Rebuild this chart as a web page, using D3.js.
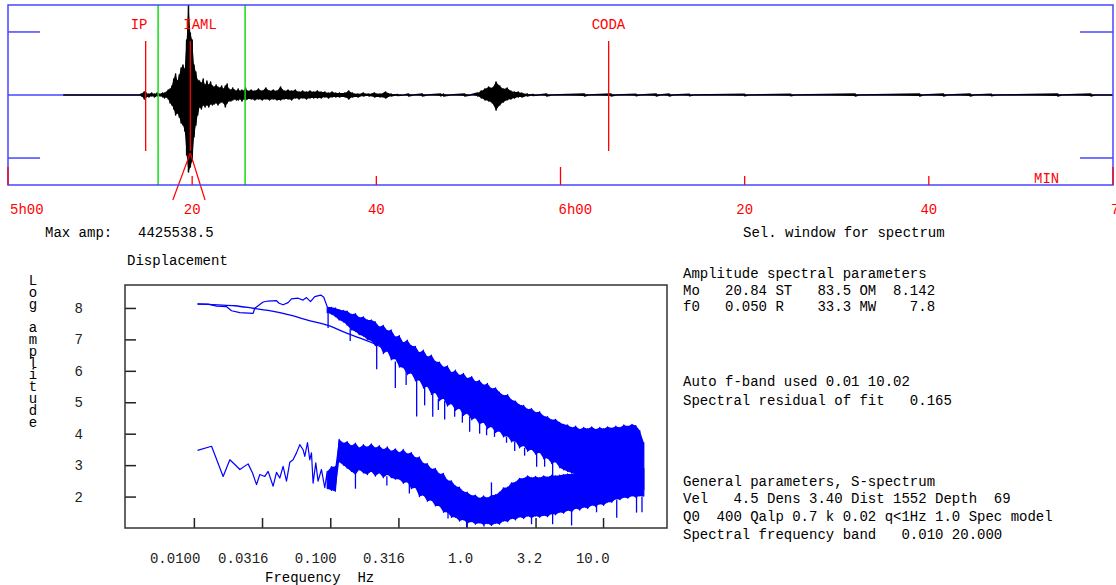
<!DOCTYPE html>
<html>
<head>
<meta charset="utf-8">
<script src="https://cdn.jsdelivr.net/npm/d3@7"></script>
<style>
html, body { margin: 0; padding: 0; background: #fff; }
svg text { font-family: "Liberation Mono", "DejaVu Sans Mono", monospace; font-size: 14px; white-space: pre; }
svg text.stacked { writing-mode: vertical-rl; text-orientation: upright; }
</style>
</head>
<body>
<svg id="chart" width="1116" height="585"></svg>
<script>
// ---------------- Seismogram (minutes after 5h00, amplitude in 1e5 counts) ----------------
const maxAmp = 4425538.5;
const traceTime = [6.0, 14.3, 14.5, 14.8, 15.0, 15.3, 15.6, 15.9, 16.2, 16.5, 16.8, 17.0, 17.2,
  17.4, 17.6, 17.8, 18.0, 18.2, 18.4, 18.6, 18.8, 19.0, 19.2, 19.4, 19.6, 19.8, 20.0, 20.2, 20.4,
  20.6, 20.8, 21.0, 21.2, 21.4, 21.6, 21.8, 22.0, 22.2, 22.4, 22.6, 22.8, 23.0, 23.2, 23.4, 23.6,
  23.8, 24.0, 24.2, 24.4, 24.6, 24.8, 25.0, 25.2, 25.4, 25.6, 25.8, 26.0,
  26.4, 26.8, 27.2, 27.6, 28.0, 28.4, 28.8, 29.2, 29.6, 30.0, 30.4, 30.8, 31.2, 31.6, 32.0, 32.4,
  32.8, 33.2, 33.6, 34.0, 34.4, 34.8, 35.2, 35.6, 36.0, 36.6, 37.0, 37.4, 38.0, 38.6, 39.2, 39.8,
  40.4, 41.0, 41.6, 42.3, 43.0, 43.5, 44.0, 45.0, 45.5, 47.0, 47.3, 48.0, 49.6, 50.2,
  51.0, 51.4, 51.8, 52.2, 52.6, 53.0, 53.4, 53.8, 54.2, 54.6, 55.0, 55.4, 55.8, 56.4, 57.0, 57.6,
  58.5, 59.0, 62.6, 63.0, 65.5, 66.0, 68.2, 68.6, 70.4, 70.8, 71.8, 72.2, 74.0, 74.4, 80.0, 80.4,
  85.0, 85.4, 92.0, 92.4, 99.0, 99.4, 101.6, 102.0, 104.5, 104.9, 106.8, 107.2, 114.0, 114.4,
  117.6, 118.0, 120.0];
const traceMax = [0, 0, 0.5, 1.5, 1.0, 0.5, 1.0, 0.5, 1.0, 0.5, 1.0, 1.0, 1.5,
  2.5, 3.0, 4.4, 7.9, 10.3, 6.9, 9.8, 13.3, 14.8, 12.8, 27.0, 44.255385, 30.5, 27.0, 14.8, 11.3,
  7.4, 6.9, 5.9, 7.9, 4.9, 6.9, 4.9, 6.4, 4.4, 3.9, 4.9, 3.9, 3.4, 4.4, 3.0, 4.4,
  5.4, 3.0, 2.5, 3.4, 2.5, 2.0, 3.0, 2.0, 2.5, 2.0, 3.4, 2.0,
  2.5, 2.0, 3.0, 2.0, 3.4, 2.0, 2.5, 2.0, 3.9, 2.0, 2.5, 2.0, 2.5, 1.5, 2.0, 1.5,
  2.0, 1.5, 2.0, 1.5, 1.5, 1.0, 1.5, 1.0, 1.0, 1.0, 2.0, 1.0, 0.5, 1.0, 0.5, 1.0,
  0.5, 1.5, 0.5, 0.3, 0, 0.5, 0, 0.5, 0, 0.5, 0.5, 0, 0.5, 0,
  1.0, 2.0, 3.0, 3.9, 3.4, 6.4, 4.4, 3.0, 3.4, 2.0, 1.5, 1.5, 1.0, 0.5, 0.3, 0,
  0.5, 0, 0.5, 0, 0.5, 0, 0.4, 0, 0.5, 0, 0.5, 0, 0.4, 0, 0.4, 0,
  0.4, 0, 0.5, 0, 0.5, 0, 0.5, 0, 0.5, 0, 0.4, 0, 0.5, 0,
  0.5, 0, 0];
const traceMin = [0, 0, -0.5, -2.0, -1.0, -1.0, -0.5, -1.0, -0.5, -0.5, -1.0, -1.5, -1.0,
  -2.0, -3.9, -4.9, -6.9, -9.8, -8.9, -10.8, -13.8, -14.8, -17.7, -29.5, -37.9, -35.4, -32.5, -20.7, -14.8,
  -9.8, -5.9, -6.9, -4.9, -5.9, -4.9, -5.9, -4.4, -4.9, -4.4, -3.9, -4.9, -3.9, -3.4, -3.9, -5.9,
  -3.9, -3.0, -3.0, -2.5, -2.0, -2.5, -2.5, -2.0, -3.0, -2.0, -2.5, -2.0,
  -2.0, -2.5, -2.0, -2.5, -2.0, -2.5, -2.0, -2.5, -2.5, -2.0, -2.0, -2.5, -1.5, -2.0, -1.5, -2.0,
  -1.5, -1.5, -1.5, -1.5, -1.0, -1.5, -1.0, -1.0, -1.0, -1.0, -2.0, -1.0, -1.0, -0.5, -0.5, -1.0,
  -1.0, -1.5, -0.5, -0.3, 0, -0.5, 0, -0.5, 0, -0.5, -0.5, 0, -0.5, 0,
  -0.5, -1.5, -2.5, -3.0, -3.9, -7.4, -4.9, -3.4, -2.5, -2.0, -1.5, -1.0, -1.0, -0.5, -0.3, 0,
  -0.5, 0, -0.5, 0, -0.5, 0, -0.4, 0, -0.5, 0, -0.5, 0, -0.4, 0, -0.4, 0,
  -0.4, 0, -0.5, 0, -0.5, 0, -0.5, 0, -0.5, 0, -0.4, 0, -0.5, 0,
  -0.5, 0, 0];

const timeTicks = [0, 20, 40, 60, 80, 100, 120];
const timeTickLabels = ["5h00", "20", "40", "6h00", "20", "40", "7h00"];
const ampMarks = [31, -31];
const phaseNames = ["IP", "IAML", "CODA"];
const phaseTimes = [14.95, 19.8, 65.23];
const phaseLabelDx = [-15, -7, -17];
const specWindow = [16.3, 25.75];
const amlPeriod = [17.9, 21.4];

// ---------------- Displacement spectrum (Hz, log amplitude) ----------------
const sigLineFreq = [0.01064, 0.01273, 0.01467, 0.01736, 0.01889, 0.02173, 0.02719, 0.02798, 0.03219,
  0.03503, 0.04035, 0.04217, 0.0451, 0.04907, 0.05196, 0.05808, 0.06321, 0.06693, 0.07161, 0.07698,
  0.08518, 0.08962];
const sigLineAmp = [8.12, 8.12, 8.06, 8.04, 7.91, 7.85, 7.83, 7.99, 8.19,
  8.22, 8.23, 8.15, 8.10, 8.17, 8.29, 8.31, 8.25, 8.33, 8.20, 8.36,
  8.41, 8.34];

const bandFreq = [0.095, 0.102, 0.109, 0.116, 0.125, 0.133, 0.143, 0.153, 0.163, 0.175, 0.187, 0.200,
  0.214, 0.229, 0.245, 0.262, 0.280, 0.300, 0.321, 0.343, 0.367, 0.393, 0.421, 0.450, 0.482, 0.515,
  0.552, 0.590, 0.632, 0.676, 0.723, 0.774, 0.828, 0.886, 0.948, 1.01, 1.09, 1.16, 1.24, 1.33, 1.42,
  1.52, 1.63, 1.74, 1.86, 2.00, 2.13, 2.28, 2.44, 2.62, 2.80, 2.99, 3.20, 3.43, 3.67, 3.92, 4.20,
  4.49, 4.81, 5.14, 5.50, 5.89, 6.30, 6.74, 7.21, 7.72, 8.26, 8.84, 9.46, 10.1, 10.8, 11.6, 12.4,
  13.3, 14.2, 15.2, 16.3, 17.4, 18.6, 19.9];
const sigHi = [8.04, 8.02, 8.00, 7.95, 7.92, 7.90, 7.80, 7.82, 7.70, 7.72, 7.62, 7.62,
  7.56, 7.40, 7.45, 7.28, 7.30, 7.08, 7.12, 6.90, 6.98, 6.80, 6.78, 6.58, 6.66, 6.45,
  6.50, 6.30, 6.28, 6.12, 6.16, 5.95, 6.02, 5.86, 5.92, 5.76, 5.82, 5.66, 5.70, 5.55, 5.60,
  5.44, 5.46, 5.32, 5.22, 5.24, 5.08, 5.04, 4.92, 4.90, 4.78, 4.80, 4.68, 4.70, 4.56, 4.54, 4.44,
  4.46, 4.36, 4.30, 4.28, 4.20, 4.24, 4.14, 4.20, 4.16, 4.22, 4.14, 4.20, 4.16, 4.22, 4.18, 4.24,
  4.20, 4.28, 4.24, 4.30, 4.26, 4.10, 3.72];
const sigLo = [7.85, 7.80, 7.72, 7.62, 7.55, 7.45, 7.30, 7.25, 7.15, 7.10, 7.00, 6.95,
  6.80, 6.82, 6.55, 6.62, 6.35, 6.38, 6.12, 6.10, 5.88, 5.92, 5.68, 5.70, 5.45, 5.50,
  5.25, 5.30, 5.05, 5.12, 4.88, 4.95, 4.74, 4.80, 4.58, 4.64, 4.44, 4.50, 4.30, 4.36, 4.16,
  4.22, 4.04, 4.08, 3.90, 3.92, 3.74, 3.76, 3.55, 3.62, 3.44, 3.50, 3.35, 3.40, 3.20, 3.22, 3.05,
  3.10, 2.92, 2.85, 2.80, 2.75, 2.70, 2.65, 2.60, 2.55, 2.55, 2.50, 2.45, 2.45, 2.40, 2.40, 2.35,
  2.35, 2.30, 2.30, 2.25, 2.25, 2.20, 2.20];
// isolated spectral spikes: [frequency, from, to]
const sigSpikes = [[0.0964, 7.95, 7.36], [0.140, 7.35, 6.95], [0.219, 6.85, 6.05], [0.300, 6.30, 5.45],
  [0.36, 6.00, 5.55], [0.430, 5.75, 4.55], [0.492, 5.55, 4.90], [0.564, 5.30, 4.54], [0.62, 5.10, 4.75],
  [0.690, 5.05, 4.45], [0.817, 4.85, 4.54], [0.93, 4.70, 4.35], [1.052, 4.55, 4.06], [1.245, 4.40, 4.00],
  [1.40, 4.20, 3.95], [1.60, 4.15, 3.90], [1.96, 3.90, 3.71], [2.25, 3.75, 3.45], [2.66, 3.55, 3.30],
  [3.26, 3.40, 2.95], [3.73, 3.25, 2.95], [4.27, 3.10, 2.63]];

const noiseLineFreq = [0.01064, 0.01348, 0.01639, 0.01835, 0.01997, 0.02173, 0.02499, 0.02692, 0.0288,
  0.03045, 0.03313, 0.03503, 0.03811, 0.04035, 0.04266, 0.0451, 0.04776, 0.0505, 0.05339, 0.05654,
  0.05978, 0.06321, 0.06505, 0.06808, 0.07075, 0.07282, 0.07482, 0.07831, 0.0814, 0.0862, 0.09114];
const noiseLineAmp = [3.47, 3.60, 2.64, 3.17, 3.02, 2.86, 3.04, 2.75, 2.38,
  2.70, 2.64, 2.80, 2.33, 2.77, 2.59, 2.96, 2.49, 3.09, 3.17, 3.39,
  3.65, 3.49, 3.28, 3.72, 3.17, 3.39, 2.43, 3.07, 2.49, 2.86, 2.28];
const noiseHi = [2.80, 2.95, 2.96, 3.82, 3.70, 3.75, 3.62, 3.70, 3.55, 3.65, 3.58, 3.68,
  3.55, 3.62, 3.50, 3.58, 3.45, 3.52, 3.40, 3.50, 3.36, 3.40, 3.24, 3.26, 3.06, 3.05,
  2.88, 2.90, 2.72, 2.74, 2.52, 2.50, 2.34, 2.30, 2.16, 2.14, 2.03, 2.05, 1.95, 2.02, 1.96,
  2.04, 2.06, 2.14, 2.28, 2.30, 2.44, 2.46, 2.58, 2.58, 2.66, 2.60, 2.64, 2.60, 2.66, 2.62, 2.68,
  2.66, 2.68, 2.70, 2.72, 2.72, 2.74, 2.76, 2.78, 2.80, 2.80, 2.82, 2.82, 2.84, 2.85, 2.86, 2.88,
  2.88, 2.90, 2.90, 2.92, 2.92, 2.92, 2.90];
const noiseLo = [2.25, 2.20, 2.17, 3.10, 3.00, 2.90, 2.80, 2.70, 2.85, 2.75, 2.70, 2.80,
  2.65, 2.75, 2.60, 2.70, 2.60, 2.55, 2.55, 2.42, 2.46, 2.25, 2.28, 2.00, 2.04, 1.85,
  1.88, 1.70, 1.70, 1.50, 1.50, 1.34, 1.34, 1.22, 1.26, 1.15, 1.20, 1.12, 1.16, 1.10, 1.14,
  1.08, 1.15, 1.12, 1.22, 1.20, 1.30, 1.26, 1.35, 1.30, 1.38, 1.32, 1.38, 1.34, 1.40, 1.36, 1.45,
  1.42, 1.50, 1.47, 1.56, 1.52, 1.62, 1.57, 1.66, 1.62, 1.72, 1.68, 1.76, 1.72, 1.82, 1.82, 1.92,
  1.90, 1.97, 1.95, 2.02, 1.98, 2.02, 2.00];
const noiseSpikes = [[0.153, 2.75, 2.25], [0.26, 2.65, 2.35], [0.38, 2.40, 2.10], [0.73, 1.50, 1.30],
  [1.0, 1.20, 1.02], [1.34, 1.15, 1.05], [1.52, 1.98, 2.45], [2.99, 1.40, 1.12], [4.27, 1.45, 1.12],
  [5.88, 1.55, 1.08], [8.96, 1.72, 1.50], [12.6, 1.90, 1.33], [17.6, 2.00, 1.49], [19.3, 2.00, 1.50]];

// fitted source model
const modelFreq = [0.01064, 0.015, 0.02, 0.0272, 0.035, 0.05, 0.07, 0.1, 0.128, 0.2, 0.32, 0.5, 1.0, 2.0, 4.0, 10.0];
const modelAmp = [8.13, 8.10, 8.07, 7.99, 7.92, 7.78, 7.60, 7.42, 7.22, 6.90, 6.47, 6.10, 5.50, 4.90, 4.25, 3.35];

const freqTicks = [0.01, 0.0316, 0.1, 0.316, 1.0, 3.2, 10.0];
const freqTickLabels = ["0.0100", "0.0316", "0.100", "0.316", "1.0", "3.2", "10.0"];
const ampTicks = [2, 3, 4, 5, 6, 7, 8];

const infoLines = [
  ["Amplitude spectral parameters", 278],
  ["Mo   20.84 ST   83.5 OM  8.142", 295],
  ["f0   0.050 R    33.3 MW    7.8", 311],
  ["Auto f-band used 0.01 10.02", 386],
  ["Spectral residual of fit   0.165", 405],
  ["General parameters, S-spectrum", 486],
  ["Vel   4.5 Dens 3.40 Dist 1552 Depth  69", 503],
  ["Q0  400 Qalp 0.7 k 0.02 q<1Hz 1.0 Spec model", 521],
  ["Spectral frequency band   0.010 20.000", 539]
];

// ---------------- drawing ----------------
const svg = d3.select("#chart");
const RED = "#ff0000", BLUE = "#4646ff", GREEN = "#10dd10", SPEC = "#0000ff";

// seismogram panel
const tx = d3.scaleLinear().domain([0, 120]).range([8, 1113]);
const ty = d3.scaleLinear().domain([-maxAmp / 1e5, maxAmp / 1e5]).range([185, 5]);

svg.append("defs").append("clipPath").attr("id", "traceClip")
  .append("rect").attr("x", 8).attr("y", 5).attr("width", 1105).attr("height", 180);

svg.append("line").attr("x1", tx(0)).attr("x2", tx(120)).attr("y1", ty(0)).attr("y2", ty(0))
  .attr("stroke", BLUE).attr("stroke-width", 1.5);

ampMarks.forEach(a => {
  svg.append("line").attr("x1", 8).attr("x2", 40).attr("y1", ty(a)).attr("y2", ty(a))
    .attr("stroke", BLUE).attr("stroke-width", 1.5);
  svg.append("line").attr("x1", 1080).attr("x2", 1113).attr("y1", ty(a)).attr("y2", ty(a))
    .attr("stroke", BLUE).attr("stroke-width", 1.5);
});

const traceG = svg.append("g").attr("clip-path", "url(#traceClip)");
const idx = d3.range(traceTime.length);
traceG.append("path")
  .attr("d", d3.area().x(i => tx(traceTime[i])).y0(i => ty(traceMin[i])).y1(i => ty(traceMax[i]))(idx))
  .attr("fill", "#000");
const tracePts = [];
traceTime.forEach((t, i) => { tracePts.push([tx(t), ty(traceMax[i])]); tracePts.push([tx(t), ty(traceMin[i])]); });
traceG.append("path").attr("d", d3.line()(tracePts))
  .attr("fill", "none").attr("stroke", "#000").attr("stroke-width", 1.5).attr("stroke-linejoin", "round");

// spectrum window
specWindow.forEach(t => {
  svg.append("line").attr("x1", tx(t)).attr("x2", tx(t)).attr("y1", 5).attr("y2", 185)
    .attr("stroke", GREEN).attr("stroke-width", 1.5);
});

// phase picks
phaseNames.forEach((p, i) => {
  const x = tx(phaseTimes[i]);
  svg.append("line").attr("x1", x).attr("x2", x).attr("y1", 41).attr("y2", 151)
    .attr("stroke", RED).attr("stroke-width", 1.3);
  svg.append("text").attr("x", x + phaseLabelDx[i]).attr("y", 29).attr("fill", RED).text(p);
});
const amlX = tx(phaseTimes[1]);
amlPeriod.forEach(t => {
  svg.append("line").attr("x1", amlX).attr("y1", 153).attr("x2", tx(t)).attr("y2", 200)
    .attr("stroke", RED).attr("stroke-width", 1.2);
});

// frame
svg.append("rect").attr("x", 8).attr("y", 5).attr("width", 1105).attr("height", 180)
  .attr("fill", "none").attr("stroke", BLUE).attr("stroke-width", 1.5);

// time axis
timeTicks.forEach((m, i) => {
  const hour = m % 60 === 0;
  const x = tx(m);
  svg.append("line").attr("x1", x).attr("x2", x).attr("y1", 185).attr("y2", hour ? 167 : 176)
    .attr("stroke", RED).attr("stroke-width", 1.3);
  svg.append("text")
    .attr("x", hour ? Math.max(x - 2, 10) : x)
    .attr("y", 214)
    .attr("text-anchor", hour ? "start" : "middle")
    .attr("fill", RED).text(timeTickLabels[i]);
});
svg.append("text").attr("x", 1034).attr("y", 183).attr("fill", RED).text("MIN");

svg.append("text").attr("x", 45).attr("y", 237).text("Max amp:");
svg.append("text").attr("x", 138).attr("y", 237).text(d3.format(".1f")(maxAmp));
svg.append("text").attr("x", 743).attr("y", 237).text("Sel. window for spectrum");

// spectrum panel
const sx = d3.scaleLog().domain([0.003126, 29.44]).range([125, 667]);
const sy = d3.scaleLinear().domain([1.0, 8.73]).range([528, 285]);

svg.append("text").attr("x", 127).attr("y", 265).text("Displacement");

const yAxis = svg.append("g").attr("transform", "translate(125,0)")
  .call(d3.axisLeft(sy).tickValues(ampTicks).tickFormat(d3.format("d"))
    .tickSizeInner(-11).tickSizeOuter(0).tickPadding(42));
const xAxis = svg.append("g").attr("transform", "translate(0,528)")
  .call(d3.axisBottom(sx).tickValues(freqTicks).tickFormat((d, i) => freqTickLabels[i])
    .tickSizeInner(-10).tickSizeOuter(0).tickPadding(25));
[yAxis, xAxis].forEach(g => {
  g.select(".domain").remove();
  g.selectAll(".tick line").attr("stroke", "#222").attr("stroke-width", 1.5);
  g.selectAll(".tick text").attr("fill", "#222").style("font-family", "'Liberation Mono', monospace").style("font-size", "14px");
});
xAxis.selectAll(".tick text").attr("text-anchor", "end").attr("dx", 6);

svg.append("rect").attr("x", 125).attr("y", 285).attr("width", 542).attr("height", 243)
  .attr("fill", "none").attr("stroke", "#333").attr("stroke-width", 1.5);

svg.append("text").attr("x", 265).attr("y", 582).text("Frequency  Hz");

// vertical axis title, letters stacked upright
svg.append("text").attr("class", "stacked").attr("x", 33).attr("y", 273)
  .style("letter-spacing", "-4.2px").text("Log amplitude");

// spectra
svg.append("path")
  .attr("d", d3.line().curve(d3.curveMonotoneX).x((f) => sx(f)).y((f, i) => sy(modelAmp[i]))(modelFreq))
  .attr("fill", "none").attr("stroke", SPEC).attr("stroke-width", 1.3);

function drawSpectrum(lineF, lineV, hi, lo, spikes) {
  const bi = d3.range(bandFreq.length);
  svg.append("path")
    .attr("d", d3.area().x(i => sx(bandFreq[i])).y0(i => sy(lo[i])).y1(i => sy(hi[i]))(bi))
    .attr("fill", SPEC);
  const pts = lineF.map((f, i) => [sx(f), sy(lineV[i])]);
  bandFreq.forEach((f, i) => { pts.push([sx(f), sy(hi[i])]); pts.push([sx(f), sy(lo[i])]); });
  svg.append("path").attr("d", d3.line()(pts))
    .attr("fill", "none").attr("stroke", SPEC).attr("stroke-width", 1.2).attr("stroke-linejoin", "round");
  spikes.forEach(s => {
    svg.append("line").attr("x1", sx(s[0])).attr("x2", sx(s[0])).attr("y1", sy(s[1])).attr("y2", sy(s[2]))
      .attr("stroke", SPEC).attr("stroke-width", 1.3);
  });
}
drawSpectrum(sigLineFreq, sigLineAmp, sigHi, sigLo, sigSpikes);
drawSpectrum(noiseLineFreq, noiseLineAmp, noiseHi, noiseLo, noiseSpikes);

// parameter text
infoLines.forEach(([t, y]) => {
  svg.append("text").attr("x", 683).attr("y", y).text(t);
});
</script>
</body>
</html>
